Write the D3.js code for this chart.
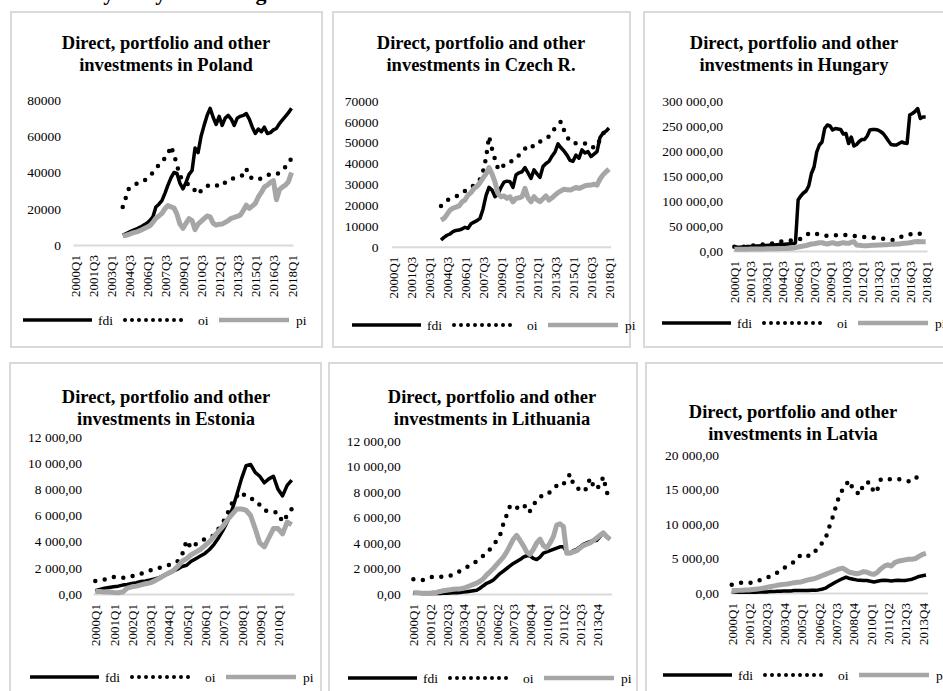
<!DOCTYPE html>
<html>
<head>
<meta charset="utf-8">
<script src="https://cdn.jsdelivr.net/npm/d3@7"></script>
<style>
  body { margin: 0; background: #fff; }
  svg { display: block; }
</style>
</head>
<body>
<svg id="chart" width="943" height="691"></svg>
<script>
// ---- Category tick labels ----
const ticksLong = ["2000Q1","2001Q3","2003Q1","2004Q3","2006Q1","2007Q3","2009Q1","2010Q3","2012Q1","2013Q3","2015Q1","2016Q3","2018Q1"];
const ticksYearly = ["2000Q1","2001Q1","2002Q1","2003Q1","2004Q1","2005Q1","2006Q1","2007Q1","2008Q1","2009Q1","2010Q1"];
const ticksFive = ["2000Q1","2001Q2","2002Q3","2003Q4","2005Q1","2006Q2","2007Q3","2008Q4","2010Q1","2011Q2","2012Q3","2013Q4"];

// ---- Value axis ticks ----
const yPoland = [0, 20000, 40000, 60000, 80000];
const yCzech = [0, 10000, 20000, 30000, 40000, 50000, 60000, 70000];
const yHungary = [0, 50000, 100000, 150000, 200000, 250000, 300000];
const yBaltic12 = [0, 2000, 4000, 6000, 8000, 10000, 12000];
const yLatvia = [0, 5000, 10000, 15000, 20000];

// ---- Poland, from 2004Q1 ----
const polandFdi = [5500,6200,7000,7800,8500,9200,10000,11000,12000,13500,15500,21000,22500,24500,28500,33000,37000,40000,39500,34000,31000,34500,39000,41000,53500,51000,60000,66000,71500,75400,70500,66500,71000,66000,70000,71500,69500,66000,70000,71000,71500,72500,69500,65000,61500,64000,62500,65000,61500,62000,63500,64300,67000,69000,71000,73000,75500];
const polandOi = [21000,26000,31000,32500,33500,34000,35000,35500,36500,38000,40000,42500,44000,45500,48000,50000,54500,50000,44000,38000,36000,34500,33000,32500,30000,28000,30000,32000,32500,33000,33500,33000,32500,32500,34500,36000,36500,36800,37500,38000,38600,42000,37500,37000,36500,36000,37000,38000,38600,38800,39000,39000,40000,42000,43000,45000,48000];
const polandPi = [5100,5300,5800,6500,7000,7400,8200,9000,9800,10600,12500,14800,16000,17500,20000,21800,21000,20500,17000,11500,9200,12000,14500,13500,8500,11500,13000,14500,16000,15500,12000,11000,11500,11600,12500,13500,14700,15200,15800,16500,19000,22000,20200,21500,23000,26500,29000,32000,33000,34500,35500,25000,30500,32000,33000,35000,40000];

// ---- Czech Republic, from 2004Q1 ----
const czechFdi = [3200,4500,5500,6100,7200,7800,8000,8500,9300,8800,11000,11800,12500,13600,18000,24500,28500,27200,24000,25500,28500,31000,31500,31200,28500,34500,35500,36000,38000,35500,32800,36900,35000,33300,38500,40000,41000,43500,45500,49400,47500,46000,44000,41500,41000,44000,42500,46500,45000,45700,43300,44500,45700,52500,54500,55500,57000];
const czechOi = [19600,21000,22300,23000,23500,24200,24800,25800,26800,27700,28500,29600,31000,32400,36000,42500,53000,47000,42000,37500,37000,39500,40400,40800,41300,42500,44000,45200,47000,48900,48500,48100,49500,50500,51200,52000,53000,55000,57000,58500,60100,56000,53000,50500,50000,49700,49400,49500,49600,49700,48500,47500,48500,51500,54000,56900,57500];
const czechPi = [12800,13600,15500,17600,18500,19000,19600,21500,22400,24800,26000,28000,29000,30800,33000,35000,38000,35000,31000,25500,24000,24400,23200,24000,21500,23200,23500,24000,28000,23500,21600,24000,22500,21600,23000,24400,22400,23500,24800,26000,26800,27600,27400,27200,27800,28500,28000,28600,29300,29500,29600,30000,29600,32500,34500,36000,37300];

// ---- Hungary, from 2000Q1 ----
const hungaryFdi = [8700,8000,7500,8000,8500,9000,9000,9500,10000,10000,10500,11000,11000,11500,12000,12000,12500,13000,13000,13500,14000,14500,15000,16000,102000,110000,116000,120000,130000,155000,168000,198000,212000,218000,245000,252000,250000,242000,245000,244000,243000,234000,235000,215000,228000,210000,213000,219000,223000,223000,230000,242000,243000,243000,242000,239000,235000,228000,220000,213000,212000,212000,215000,218000,216000,215000,272000,275000,279000,285000,265000,268000,268000];
const hungaryOi = [8700,8700,8700,8700,8700,9000,10000,11000,12000,12500,13000,13000,13200,13300,14500,16000,17500,18700,19200,19700,20200,20700,21500,22500,23500,24000,27000,31000,35000,36700,35500,34000,33000,32000,31000,30000,30500,31000,31500,32000,32000,32000,32000,32000,31000,30000,29500,28700,28200,27700,27200,26700,26500,26000,25800,25300,24500,23800,23000,22500,22000,24000,26500,29000,30700,32000,33000,34500,35300,36000,34000,33000,33000];
const hungaryPi = [3300,3300,3500,3500,3600,3600,3800,3800,4000,4000,4200,4200,4400,4400,4500,4600,4700,4800,5000,5000,5200,5300,6000,7000,8000,9000,10000,11000,12500,14000,14500,15500,16500,16700,15000,14000,15500,16700,15000,14000,15500,16700,15500,15300,17500,18700,12000,11500,11000,10700,10700,11000,11300,11600,12000,12200,12400,12600,12800,13300,13500,13800,14200,14800,15300,15800,16500,17500,18700,19000,18700,18700,18700];

// ---- Estonia, 2000Q1-2010Q4 ----
const estoniaFdi = [250,350,450,500,550,600,680,730,800,870,950,1000,1070,1150,1250,1400,1550,1750,1900,2100,2200,2500,2700,2900,3100,3400,3800,4300,4900,5600,6500,7600,8800,9800,9900,9300,9000,8500,8800,9000,8000,7500,8300,8700];
const estoniaOi = [1000,1050,1100,1200,1300,1280,1250,1250,1350,1450,1550,1700,1800,1900,2000,2100,2200,2350,2500,3000,4100,3500,3800,4000,4200,4300,4500,5000,5500,6200,7000,7500,7800,7400,7300,7200,6800,6400,6300,6300,6200,5500,6000,6500];
const estoniaPi = [200,200,150,150,120,100,150,450,550,600,700,780,850,1000,1200,1400,1600,1750,2100,2500,2700,3000,3200,3400,3700,4000,4400,4800,5200,5700,6100,6500,6500,6400,6000,5000,3900,3600,4300,5000,5000,4600,5500,5300];

// ---- Lithuania, 2000Q1-2014Q4 ----
const lithuaniaFdi = [100,80,60,40,30,30,30,30,40,50,60,80,100,100,120,150,180,220,260,300,450,650,840,950,1100,1350,1600,1800,2000,2200,2400,2550,2700,2900,3000,3000,2800,2700,2900,3200,3300,3400,3500,3600,3700,3700,3300,3200,3400,3500,3700,3900,4000,4100,4200,4200,4500,4800,4500,4300];
const lithuaniaOi = [1150,1150,1120,1100,1200,1300,1360,1360,1360,1360,1400,1450,1500,1650,1800,1940,2100,2250,2350,2600,2800,3000,3300,3500,3800,4200,4600,5500,6200,6900,7000,6800,6600,6800,7000,6500,7000,7300,7600,7800,7800,8000,8300,8500,8700,8600,9000,9400,8600,8300,8200,8000,8300,9100,8500,8200,8600,9200,8000,7400];
const lithuaniaPi = [100,100,80,50,50,60,100,120,200,250,300,330,370,400,400,450,550,650,750,850,1000,1200,1500,1750,2000,2300,2600,2900,3300,3800,4300,4600,4200,3800,3300,3100,3500,4000,4300,3800,3600,4000,4500,5400,5500,5300,3200,3200,3300,3400,3600,3800,3900,4000,4200,4400,4600,4800,4500,4300];

// ---- Latvia, 2000Q1-2014Q1 ----
const latviaFdi = [200,150,100,100,100,100,100,120,150,150,150,200,200,250,250,300,300,300,350,350,350,350,350,400,400,450,550,700,1000,1300,1600,1850,2100,2300,2100,2000,1900,1850,1800,1800,1700,1600,1700,1800,1850,1800,1750,1800,1850,1800,1800,1900,2000,2200,2400,2500,2600];
const latviaOi = [1200,1300,1400,1500,1500,1500,1500,1700,1850,2000,2200,2400,2600,2900,3200,3600,3900,4200,4500,5000,5600,5500,5400,5400,6000,6600,7200,7800,9400,10800,12500,14100,15000,15800,16300,14900,14600,14300,15900,16000,16000,14500,15000,16500,16500,16500,16500,16500,16500,16400,16300,16200,16500,16500,17400,17300];
const latviaPi = [350,350,380,400,420,450,500,550,600,700,800,900,1000,1100,1200,1250,1300,1400,1500,1550,1600,1750,1900,2000,2100,2300,2500,2700,2900,3100,3300,3500,3600,3300,3000,2900,2800,2900,3100,3000,2800,2700,3000,3500,3900,4100,3900,4400,4600,4700,4800,4900,4900,5000,5300,5600,5750];

// ---- Formatting ----
const serif = '"Liberation Serif","Times New Roman",serif';
const plain = d3.format("d");
const euro = d3.formatLocale({ decimal: ",", thousands: " ", grouping: [3], currency: ["", ""] }).format(",.2f");

function quarters(n) {
  return d3.range(n).map(i => `${2000 + Math.floor(i / 4)}Q${(i % 4) + 1}`);
}

const panels = [
  { country: "Poland", box: [11, 12, 322, 347], titleX: 166, titleY: [49, 71],
    plotX: [73, 293], zeroY: 245, topY: 100, yTicks: yPoland, fmt: plain, pad: 12,
    n: 73, xTicks: ticksLong, start: 16, fdi: polandFdi, oi: polandOi, pi: polandPi, legend: [23, 320] },
  { country: "Czech R.", box: [333, 12, 630, 347], titleX: 481, titleY: [49, 71],
    plotX: [391.5, 610.5], zeroY: 246.7, topY: 101, yTicks: yCzech, fmt: plain, pad: 13,
    n: 73, xTicks: ticksLong, start: 16, fdi: czechFdi, oi: czechOi, pi: czechPi, legend: [352, 325] },
  { country: "Hungary", box: [644, 12, 946, 347], titleX: 794, titleY: [49, 71],
    plotX: [733, 927], zeroY: 251, topY: 101, yTicks: yHungary, fmt: euro, pad: 10,
    n: 73, xTicks: ticksLong, start: 0, fdi: hungaryFdi, oi: hungaryOi, pi: hungaryPi, legend: [662, 323] },
  { country: "Estonia", box: [10, 363, 321, 705], titleX: 166, titleY: [402.5, 424.5],
    plotX: [93, 294], zeroY: 594, topY: 437, yTicks: yBaltic12, fmt: euro, pad: 11,
    n: 44, xTicks: ticksYearly, start: 0, fdi: estoniaFdi, oi: estoniaOi, pi: estoniaPi, legend: [30, 677] },
  { country: "Lithuania", box: [329, 363, 637, 705], titleX: 492, titleY: [402.5, 424.5],
    plotX: [411.7, 611.7], zeroY: 594, topY: 441, yTicks: yBaltic12, fmt: euro, pad: 11,
    n: 60, xTicks: ticksFive, start: 0, fdi: lithuaniaFdi, oi: lithuaniaOi, pi: lithuaniaPi, legend: [348, 678] },
  { country: "Latvia", box: [646, 363, 950, 705], titleX: 793, titleY: [418, 440],
    plotX: [730, 927.7], zeroY: 593, topY: 455, yTicks: yLatvia, fmt: euro, pad: 11,
    n: 57, xTicks: ticksFive, start: 0, fdi: latviaFdi, oi: latviaOi, pi: latviaPi, legend: [663, 675] }
];

const svg = d3.select("#chart");
svg.append("rect").attr("width", 943).attr("height", 691).attr("fill", "#fff");

// Section heading above the panels; the page top crops it to its descenders
svg.append("text")
  .attr("x", 58).attr("y", -0.5)
  .style("font-family", serif).style("font-weight", "bold").style("font-size", "22px")
  .text("Analysis by flow categories");

const seriesStyle = {
  fdi: { stroke: "#000", width: 3.5, dash: null, cap: "butt" },
  oi:  { stroke: "#000", width: 4.5, dash: "0 9.5", cap: "round" },
  pi:  { stroke: "#a6a6a6", width: 5, dash: null, cap: "butt" }
};

panels.forEach(p => {
  const g = svg.append("g");

  g.append("rect")
    .attr("x", p.box[0]).attr("y", p.box[1])
    .attr("width", p.box[2] - p.box[0]).attr("height", p.box[3] - p.box[1])
    .attr("fill", "#fff").attr("stroke", "#d9d9d9").attr("stroke-width", 2);

  const titleLines = ["Direct, portfolio and other", `investments in ${p.country}`];
  g.selectAll("text.title").data(titleLines).join("text")
    .attr("class", "title")
    .attr("x", p.titleX).attr("y", (d, i) => p.titleY[i])
    .attr("text-anchor", "middle")
    .style("font-family", serif).style("font-weight", "bold").style("font-size", "18.5px")
    .text(d => d);

  const cats = quarters(p.n);
  const x = d3.scalePoint().domain(cats).range(p.plotX).padding(0.5);
  const y = d3.scaleLinear().domain([0, d3.max(p.yTicks)]).range([p.zeroY, p.topY]);

  // value labels
  const ya = g.append("g")
    .attr("transform", `translate(${p.plotX[0]},0)`)
    .call(d3.axisLeft(y).tickValues(p.yTicks).tickFormat(p.fmt).tickSize(0).tickPadding(p.pad));
  ya.select(".domain").remove();
  ya.selectAll("text")
    .style("font-family", serif).style("font-size", "13.5px").attr("fill", "#000");

  // category axis with rotated labels
  const xa = g.append("g")
    .attr("transform", `translate(0,${p.zeroY})`)
    .call(d3.axisBottom(x).tickValues(p.xTicks).tickSize(0).tickSizeOuter(0));
  xa.select(".domain").attr("stroke", "#d9d9d9").attr("stroke-width", 2);
  xa.selectAll("text")
    .attr("transform", "rotate(-90)")
    .attr("x", -10).attr("y", 0).attr("dy", "0.35em")
    .attr("text-anchor", "end")
    .style("font-family", serif).style("font-size", "13px").attr("fill", "#000");

  // series
  ["fdi", "oi", "pi"].forEach(key => {
    const st = seriesStyle[key];
    const pts = p[key].map((v, i) => ({ c: cats[p.start + i], v }));
    const line = d3.line().x(d => x(d.c)).y(d => y(d.v));
    g.append("path")
      .datum(pts)
      .attr("d", line)
      .attr("fill", "none")
      .attr("stroke", st.stroke)
      .attr("stroke-width", st.width)
      .attr("stroke-linejoin", "round")
      .attr("stroke-linecap", st.cap)
      .attr("stroke-dasharray", st.dash);
  });

  // legend
  const [lx, ly] = p.legend;
  const lg = g.append("g").attr("transform", `translate(${lx},${ly})`);
  const items = [
    { key: "fdi", x0: 0, x1: 69, tx: 75, dash: null, w: 3.5 },
    { key: "oi", x0: 102, x1: 162, tx: 175, dash: "0 7", w: 4 },
    { key: "pi", x0: 196, x1: 266, tx: 273, dash: null, w: 4.5 }
  ];
  items.forEach(it => {
    lg.append("line")
      .attr("x1", it.x0).attr("x2", it.x1).attr("y1", 0).attr("y2", 0)
      .attr("stroke", seriesStyle[it.key].stroke)
      .attr("stroke-width", it.w)
      .attr("stroke-linecap", it.dash ? "round" : "butt")
      .attr("stroke-dasharray", it.dash);
    lg.append("text")
      .attr("x", it.tx).attr("y", 0).attr("dy", "0.35em")
      .style("font-family", serif).style("font-size", "13.5px")
      .text(it.key);
  });
});
</script>
</body>
</html>
